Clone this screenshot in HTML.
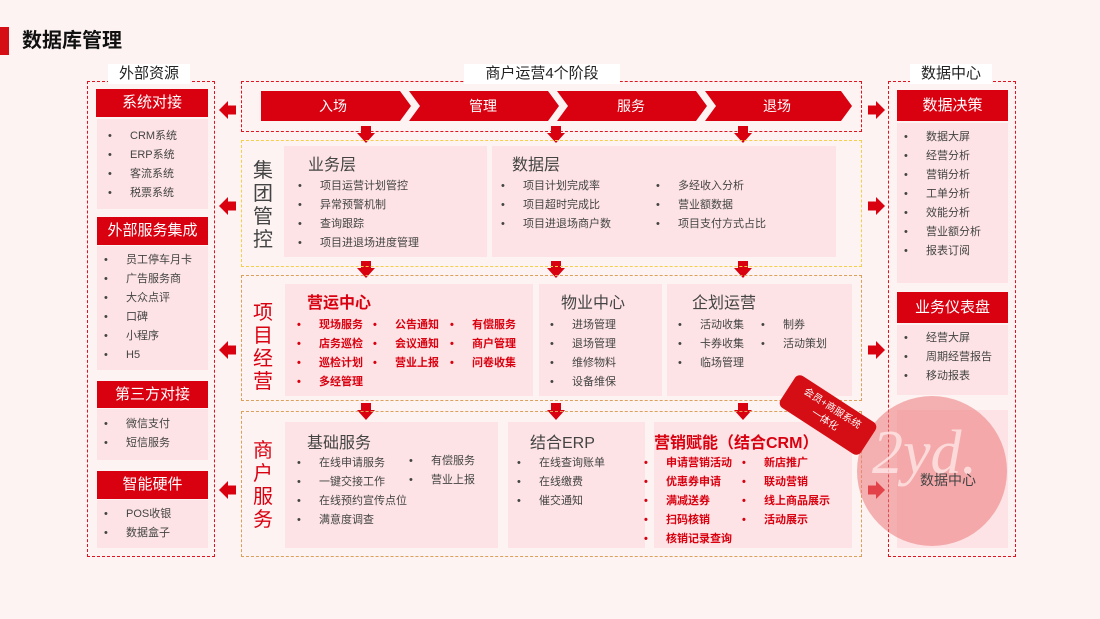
<!DOCTYPE html>
<html><head><meta charset="utf-8">
<style>
*{margin:0;padding:0;box-sizing:border-box}
body{width:1100px;height:619px;background:#fdf3f3;position:relative;overflow:hidden;font-family:"Liberation Sans","Noto Sans CJK SC",sans-serif;color:#444}
.a{position:absolute}
.hdr{position:absolute;background:#d90010;color:#fff;font-size:15px;text-align:center}
.pan{position:absolute;background:#fde3e5}
.db{position:absolute;border:1.5px dashed #e0141e}
.dy{position:absolute;border:1.5px dashed #f5cf4a}
.do{position:absolute;border:1.5px dashed #dca05a}
.lbl{position:absolute;background:#fff;color:#222;font-size:15px;text-align:center;line-height:20px}
.ls{position:absolute;font-size:11px;line-height:19px;color:#444;white-space:nowrap}
.ls div i{display:inline-block;font-style:normal;width:22px}
.lr{color:#d90010;font-weight:bold}
.vt{position:absolute;font-size:20px;line-height:23px;width:22px;text-align:center}
.pt{position:absolute;font-size:16px;color:#444}
</style></head><body>
<div class="a" style="left:0;top:27px;width:9px;height:28px;background:#d40e14"></div>
<div class="a" style="left:22px;top:28px;font-size:20px;font-weight:bold;color:#111;line-height:26px">数据库管理</div>

<!-- left -->
<div class="db" style="left:87px;top:81px;width:128px;height:476px"></div>
<div class="lbl" style="left:108px;top:64px;width:82px">外部资源</div>
<div class="hdr" style="left:96px;top:89px;width:112px;height:28px;line-height:28px">系统对接</div>
<div class="pan" style="left:97px;top:119px;width:111px;height:90px"></div>
<div class="ls" style="left:108px;top:127px"><div><i>•</i>CRM系统</div><div><i>•</i>ERP系统</div><div><i>•</i>客流系统</div><div><i>•</i>税票系统</div></div>
<div class="hdr" style="left:97px;top:217px;width:111px;height:28px;line-height:28px">外部服务集成</div>
<div class="pan" style="left:97px;top:246px;width:111px;height:124px"></div>
<div class="ls" style="left:104px;top:251px"><div><i>•</i>员工停车月卡</div><div><i>•</i>广告服务商</div><div><i>•</i>大众点评</div><div><i>•</i>口碑</div><div><i>•</i>小程序</div><div><i>•</i>H5</div></div>
<div class="hdr" style="left:97px;top:381px;width:111px;height:27px;line-height:27px">第三方对接</div>
<div class="pan" style="left:97px;top:409px;width:111px;height:51px"></div>
<div class="ls" style="left:104px;top:415px"><div><i>•</i>微信支付</div><div><i>•</i>短信服务</div></div>
<div class="hdr" style="left:97px;top:471px;width:111px;height:28px;line-height:28px">智能硬件</div>
<div class="pan" style="left:97px;top:500px;width:111px;height:48px"></div>
<div class="ls" style="left:104px;top:505px"><div><i>•</i>POS收银</div><div><i>•</i>数据盒子</div></div>

<!-- top -->
<div class="db" style="left:241px;top:81px;width:621px;height:51px"></div>
<div class="lbl" style="left:464px;top:64px;width:156px">商户运营4个阶段</div>
<svg class="a" style="left:255px;top:88px" width="605" height="36">
<g fill="#d90010">
<polygon points="6,3 145,3 156,18 145,33 6,33"/>
<polygon points="154,3 293,3 304,18 293,33 154,33 165,18"/>
<polygon points="302,3 441,3 452,18 441,33 302,33 313,18"/>
<polygon points="450,3 586,3 597,18 586,33 450,33 461,18"/>
</g>
<g fill="#fff" font-size="14" text-anchor="middle" font-family="Liberation Sans,Noto Sans CJK SC,sans-serif">
<text x="78" y="23">入场</text><text x="228" y="23">管理</text><text x="376" y="23">服务</text><text x="522" y="23">退场</text></g>
</svg>

<!-- arrows -->
<svg class="a" style="left:0;top:0" width="1100" height="619">
<g fill="#d90010">
<g id="la"><polygon points="219,110 228,101 228,105.5 236,105.5 236,114.5 228,114.5 228,119"/></g>
<use href="#la" y="96"/><use href="#la" y="240"/><use href="#la" y="380"/>
<g id="ra"><polygon points="885,110 876,101 876,105.5 868,105.5 868,114.5 876,114.5 876,119"/></g>
<use href="#ra" y="96"/><use href="#ra" y="240"/><use href="#ra" y="380"/>
<g id="da"><polygon points="361,126 371,126 371,133 375,133 366,143 357,133 361,133"/></g>
<use href="#da" x="190"/><use href="#da" x="377"/>
<use href="#da" y="135"/><use href="#da" x="190" y="135"/><use href="#da" x="377" y="135"/>
<use href="#da" y="277"/><use href="#da" x="190" y="277"/><use href="#da" x="377" y="277"/>
</g></svg>

<!-- group control -->
<div class="dy" style="left:241px;top:140px;width:621px;height:127px"></div>
<div class="vt" style="left:252px;top:160px;color:#444">集<br>团<br>管<br>控</div>
<div class="pan" style="left:284px;top:146px;width:203px;height:111px"></div>
<div class="pt" style="left:308px;top:151px">业务层</div>
<div class="ls" style="left:298px;top:177px"><div><i>•</i>项目运营计划管控</div><div><i>•</i>异常预警机制</div><div><i>•</i>查询跟踪</div><div><i>•</i>项目进退场进度管理</div></div>
<div class="pan" style="left:492px;top:146px;width:344px;height:111px"></div>
<div class="pt" style="left:512px;top:151px">数据层</div>
<div class="ls" style="left:501px;top:177px"><div><i>•</i>项目计划完成率</div><div><i>•</i>项目超时完成比</div><div><i>•</i>项目进退场商户数</div></div>
<div class="ls" style="left:656px;top:177px"><div><i>•</i>多经收入分析</div><div><i>•</i>营业额数据</div><div><i>•</i>项目支付方式占比</div></div>

<!-- project ops -->
<div class="do" style="left:241px;top:275px;width:621px;height:126px"></div>
<div class="vt" style="left:252px;top:302px;color:#d90010">项<br>目<br>经<br>营</div>
<div class="pan" style="left:285px;top:284px;width:248px;height:112px"></div>
<div class="pt" style="left:307px;top:289px;color:#d90010;font-weight:bold">营运中心</div>
<div class="ls lr" style="left:297px;top:316px"><div><i>•</i>现场服务</div><div><i>•</i>店务巡检</div><div><i>•</i>巡检计划</div><div><i>•</i>多经管理</div></div>
<div class="ls lr" style="left:373px;top:316px"><div><i>•</i>公告通知</div><div><i>•</i>会议通知</div><div><i>•</i>营业上报</div></div>
<div class="ls lr" style="left:450px;top:316px"><div><i>•</i>有偿服务</div><div><i>•</i>商户管理</div><div><i>•</i>问卷收集</div></div>
<div class="pan" style="left:539px;top:284px;width:123px;height:112px"></div>
<div class="pt" style="left:561px;top:289px">物业中心</div>
<div class="ls" style="left:550px;top:316px"><div><i>•</i>进场管理</div><div><i>•</i>退场管理</div><div><i>•</i>维修物料</div><div><i>•</i>设备维保</div></div>
<div class="pan" style="left:667px;top:284px;width:185px;height:112px"></div>
<div class="pt" style="left:692px;top:289px">企划运营</div>
<div class="ls" style="left:678px;top:316px"><div><i>•</i>活动收集</div><div><i>•</i>卡券收集</div><div><i>•</i>临场管理</div></div>
<div class="ls" style="left:761px;top:316px"><div><i>•</i>制券</div><div><i>•</i>活动策划</div></div>

<!-- merchant service -->
<div class="do" style="left:241px;top:411px;width:621px;height:146px"></div>
<div class="vt" style="left:252px;top:440px;color:#d90010">商<br>户<br>服<br>务</div>
<div class="pan" style="left:285px;top:422px;width:213px;height:126px"></div>
<div class="pt" style="left:307px;top:429px">基础服务</div>
<div class="ls" style="left:297px;top:454px"><div><i>•</i>在线申请服务</div><div><i>•</i>一键交接工作</div><div><i>•</i>在线预约宣传点位</div><div><i>•</i>满意度调查</div></div>
<div class="ls" style="left:409px;top:452px"><div><i>•</i>有偿服务</div><div><i>•</i>营业上报</div></div>
<div class="pan" style="left:508px;top:422px;width:137px;height:126px"></div>
<div class="pt" style="left:530px;top:429px">结合ERP</div>
<div class="ls" style="left:517px;top:454px"><div><i>•</i>在线查询账单</div><div><i>•</i>在线缴费</div><div><i>•</i>催交通知</div></div>
<div class="pan" style="left:654px;top:422px;width:198px;height:126px"></div>
<div class="pt" style="left:654px;top:429px;color:#d90010;font-weight:bold">营销赋能（结合CRM）</div>
<div class="ls lr" style="left:644px;top:454px"><div><i>•</i>申请营销活动</div><div><i>•</i>优惠券申请</div><div><i>•</i>满减送券</div><div><i>•</i>扫码核销</div><div><i>•</i>核销记录查询</div></div>
<div class="ls lr" style="left:742px;top:454px"><div><i>•</i>新店推广</div><div><i>•</i>联动营销</div><div><i>•</i>线上商品展示</div><div><i>•</i>活动展示</div></div>

<!-- right -->
<div class="db" style="left:888px;top:81px;width:128px;height:476px"></div>
<div class="lbl" style="left:910px;top:64px;width:82px">数据中心</div>
<div class="hdr" style="left:897px;top:90px;width:111px;height:31px;line-height:31px">数据决策</div>
<div class="pan" style="left:897px;top:123px;width:111px;height:160px"></div>
<div class="ls" style="left:904px;top:128px"><div><i>•</i>数据大屏</div><div><i>•</i>经营分析</div><div><i>•</i>营销分析</div><div><i>•</i>工单分析</div><div><i>•</i>效能分析</div><div><i>•</i>营业额分析</div><div><i>•</i>报表订阅</div></div>
<div class="hdr" style="left:897px;top:292px;width:111px;height:31px;line-height:31px">业务仪表盘</div>
<div class="pan" style="left:897px;top:325px;width:111px;height:70px"></div>
<div class="ls" style="left:904px;top:329px"><div><i>•</i>经营大屏</div><div><i>•</i>周期经营报告</div><div><i>•</i>移动报表</div></div>
<div class="pan" style="left:897px;top:410px;width:111px;height:138px"></div>
<div class="a" style="left:857px;top:396px;width:150px;height:150px;border-radius:50%;background:rgba(236,120,120,.55)"></div>
<div class="a" style="left:872px;top:418px;font-size:62px;font-family:'Liberation Serif',serif;font-style:italic;color:rgba(255,240,240,.7)">2yd.</div>
<div class="a" style="left:920px;top:470px;font-size:14px;color:#444">数据中心</div>

<!-- badge -->
<div class="a" style="left:780px;top:396px;width:96px;height:38px;background:#d40e14;border-radius:6px;transform:rotate(33deg);color:#fff;font-size:10px;text-align:center;line-height:14px;padding-top:5px">会员+商服系统<br>一体化</div>
</body></html>
